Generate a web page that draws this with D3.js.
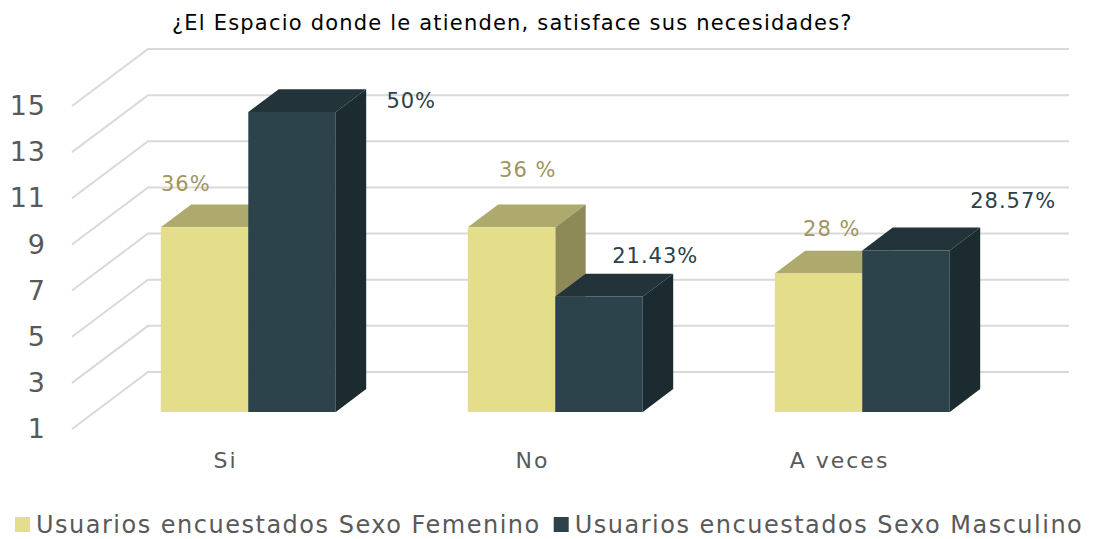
<!DOCTYPE html>
<html>
<head>
<meta charset="utf-8">
<script src="https://cdn.jsdelivr.net/npm/d3@7"></script>
<style>
  body { margin: 0; background: #fff; }
  svg text { font-family: "DejaVu Sans", sans-serif; }
</style>
</head>
<body>
<svg id="chart" width="1094" height="539"></svg>
<script>
// data
const categories = ['Si', 'No', 'A veces'];
const seriesNames = ['Usuarios encuestados Sexo Femenino', 'Usuarios encuestados Sexo Masculino'];
const femenino = [9, 9, 7];
const masculino = [14, 6, 8];
const femLabels = ['36%', '36 %', '28 %'];
const mascLabels = ['50%', '21.43%', '28.57%'];
const yTicks = [1, 3, 5, 7, 9, 11, 13, 15];

// labels were dragged by hand in the original, offsets from the bar top
const femNudge = [[-34, -32], [1, -46], [-2, -33]];
const mascNudge = [[104, 0], [41, -29], [92, -38]];

const svg = d3.select('#chart');

// 3d projection: front plane + depth offset
const depth = {dx: 76, dy: -57};
const x = d3.scaleBand().domain(categories).range([72, 993])
  .paddingInner(0.43).paddingOuter(0.215);
const xs = d3.scaleBand().domain([0, 1]).range([0, x.bandwidth()]);
const y = d3.scaleLinear().domain([1, 15]).range([429, 106]);

const proj = (px, v, z) => [px + z * depth.dx, y(v) + z * depth.dy];

const colors = [
  {front: '#e4de8a', top: '#aea96c', side: '#8e8a57', label: '#a0955f'},
  {front: '#2c434b', top: '#223339', side: '#1b2b30', label: '#2b424a'}
];

// gridlines
const grid = svg.append('g');
yTicks.forEach(t => {
  const a = proj(x.range()[0], t, 0), b = proj(x.range()[0], t, 1), c = proj(x.range()[1], t, 1);
  grid.append('polyline')
    .attr('points', [a, b, c].map(p => p.join(',')).join(' '))
    .attr('fill', 'none')
    .attr('stroke', '#d9d9d9')
    .attr('stroke-width', 2);
});

// y axis
const yAxis = svg.append('g')
  .attr('transform', 'translate(56,0)')
  .call(d3.axisLeft(y).tickValues(yTicks).tickSize(0).tickPadding(10));
yAxis.select('.domain').remove();
yAxis.selectAll('text')
  .style('font-family', '"DejaVu Sans", sans-serif')
  .style('font-size', '27px')
  .style('letter-spacing', '1px')
  .attr('fill', '#595959');

// x axis
const xAxis = svg.append('g')
  .attr('transform', 'translate(0,440)')
  .call(d3.axisBottom(x).tickSize(0).tickPadding(12));
xAxis.select('.domain').remove();
xAxis.selectAll('text')
  .style('font-family', '"DejaVu Sans", sans-serif')
  .style('font-size', '22px')
  .style('letter-spacing', '2px')
  .attr('fill', '#595959');

// bars
const z0 = 0.3, z1 = 0.7;
const bars = svg.append('g');
const pts = arr => arr.map(p => p.join(',')).join(' ');

categories.forEach((cat, i) => {
  [femenino[i], masculino[i]].forEach((v, s) => {
    const c = colors[s];
    const xl = x(cat) + xs(s), xr = xl + xs.bandwidth();
    const g = bars.append('g');
    // top
    g.append('polygon')
      .attr('points', pts([proj(xl, v, z0), proj(xr, v, z0), proj(xr, v, z1), proj(xl, v, z1)]))
      .attr('fill', c.top);
    // side
    g.append('polygon')
      .attr('points', pts([proj(xr, v, z0), proj(xr, v, z1), proj(xr, 1, z1), proj(xr, 1, z0)]))
      .attr('fill', c.side);
    // front
    g.append('polygon')
      .attr('points', pts([proj(xl, v, z0), proj(xr, v, z0), proj(xr, 1, z0), proj(xl, 1, z0)]))
      .attr('fill', c.front);
  });
});

// value labels
categories.forEach((cat, i) => {
  [[femenino, femLabels, femNudge], [masculino, mascLabels, mascNudge]].forEach(([vals, labs, nudge], s) => {
    const xc = x(cat) + xs(s) + xs.bandwidth() / 2;
    const p = proj(xc, vals[i], 0.5);
    svg.append('text')
      .attr('x', p[0] + nudge[i][0])
      .attr('y', p[1] + nudge[i][1])
      .attr('dy', '0.35em')
      .attr('text-anchor', 'middle')
      .style('font-size', '21px')
      .style('letter-spacing', '1px')
      .attr('fill', colors[s].label)
      .text(labs[i]);
  });
});

// title
svg.append('text')
  .attr('x', 172)
  .attr('y', 30)
  .style('font-size', '21px')
  .style('letter-spacing', '1.2px')
  .attr('fill', '#000')
  .text('¿El Espacio donde le atienden, satisface sus necesidades?');

// legend
const legend = svg.append('g').attr('transform', 'translate(15,525)');
let lx = 0;
seriesNames.forEach((name, s) => {
  const item = legend.append('g').attr('transform', `translate(${lx},0)`);
  item.append('rect')
    .attr('x', 0).attr('y', -8)
    .attr('width', 15).attr('height', 15)
    .attr('fill', colors[s].front);
  const t = item.append('text')
    .attr('x', 21).attr('y', 0)
    .attr('dy', '0.35em')
    .style('font-size', '24px')
    .style('letter-spacing', '1.5px')
    .attr('fill', '#595959')
    .text(name);
  lx += 21 + t.node().getComputedTextLength() + 13;
});
</script>
</body>
</html>
